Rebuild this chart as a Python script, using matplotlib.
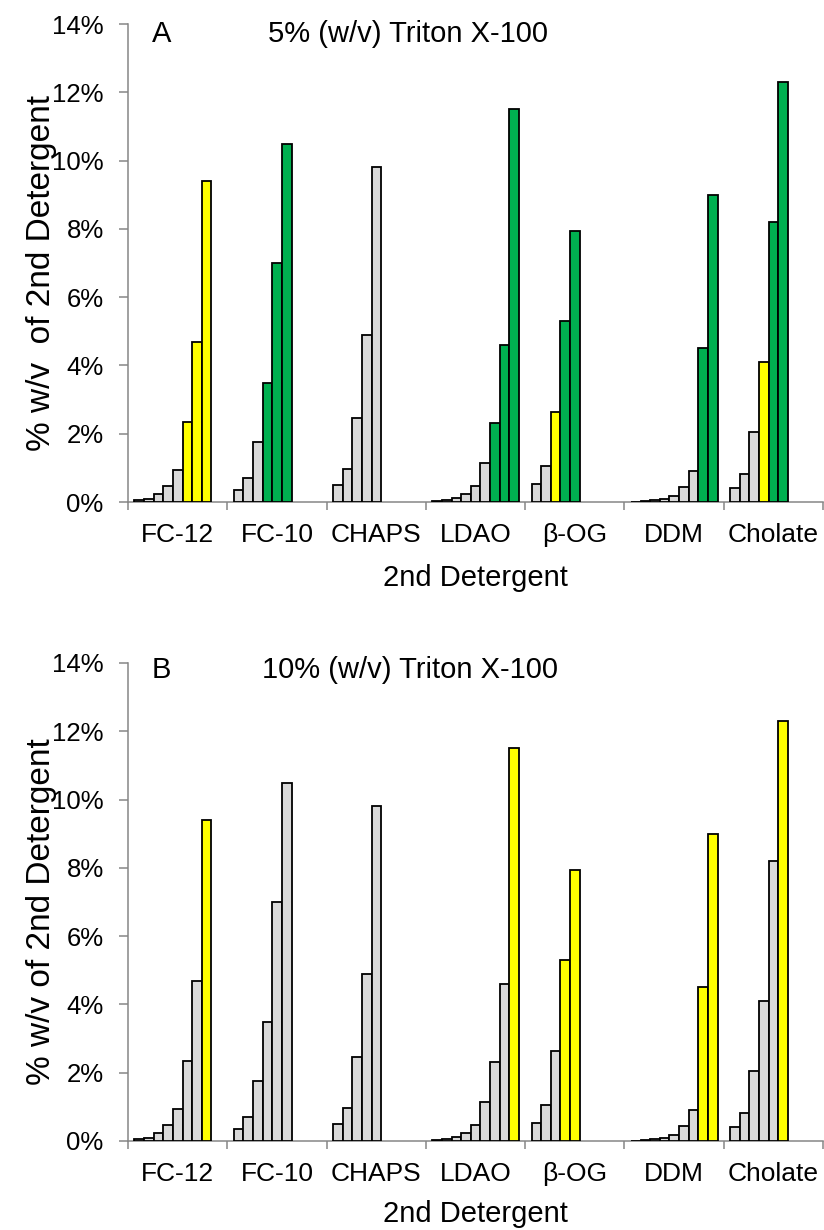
import matplotlib
matplotlib.use("Agg")
import matplotlib.pyplot as plt
from matplotlib.ticker import FuncFormatter, FixedLocator

# detergent groups, in order along the x axis
detergents = ["FC-12", "FC-10", "CHAPS", "LDAO", "β-OG", "DDM", "Cholate"]

# % w/v of 2nd detergent, one bar per dilution
fc12 = [0.047, 0.094, 0.235, 0.47, 0.94, 2.35, 4.7, 9.4]
fc10 = [0.35, 0.7, 1.75, 3.5, 7.0, 10.5]
chaps = [0.49, 0.98, 2.45, 4.9, 9.8]
ldao = [0.023, 0.046, 0.115, 0.23, 0.46, 1.15, 2.3, 4.6, 11.5]
bog = [0.53, 1.06, 2.65, 5.3, 7.95]
ddm = [0.009, 0.018, 0.045, 0.09, 0.18, 0.45, 0.9, 4.5, 9.0]
cholate = [0.41, 0.82, 2.05, 4.1, 8.2, 12.3]

# bar colour codes per group: n = grey, y = yellow, g = green
codes_a = ["nnnnnyyy", "nnnggg", "nnnnn", "nnnnnnggg", "nnygg", "nnnnnnngg", "nnnygg"]
codes_b = ["nnnnnnny", "nnnnnn", "nnnnn", "nnnnnnnny", "nnnyy", "nnnnnnnyy", "nnnnny"]

panel_titles = ["5% (w/v) Triton X-100", "10% (w/v) Triton X-100"]
panel_letters = ["A", "B"]
ylabels = ["% w/v  of 2nd Detergent", "% w/v of 2nd Detergent"]

colors = {"n": "#D9D9D9", "y": "#FFFF00", "g": "#00B050"}
axis_grey = "#868686"

plt.rcParams["font.family"] = ["Liberation Sans", "DejaVu Sans"]

W, H = 824, 1230
fig = plt.figure(figsize=(W / 100, H / 100), dpi=100)

groups = [fc12, fc10, chaps, ldao, bog, ddm, cholate]
offset = 0.065
width = 0.097

# axes boxes in pixels: left, top, right, bottom
boxes = [(128, 24, 823, 502), (128, 663, 823, 1141)]
letter_y = [0.962, 0.969]
title_x = [0.2014, 0.193]
xlabel_y = [-0.160, -0.152]

for p in range(2):
    l, t, r, b = boxes[p]
    ax = fig.add_axes([l / W, 1 - b / H, (r - l) / W, (b - t) / H])
    codes = codes_a if p == 0 else codes_b
    for i, vals in enumerate(groups):
        xs = [i + offset + k * width for k in range(len(vals))]
        cols = [colors[c] for c in codes[i]]
        ax.bar(xs, vals, width=width, align="edge", color=cols,
               edgecolor="black", linewidth=1.3, zorder=3)

    ax.set_xlim(0, 7)
    ax.set_ylim(0, 14)
    ax.set_yticks(range(0, 15, 2))
    ax.yaxis.set_major_formatter(FuncFormatter(lambda v, _: f"{v:.0f}%"))
    ax.xaxis.set_major_locator(FixedLocator(range(8)))
    ax.xaxis.set_minor_locator(FixedLocator([i + 0.5 for i in range(7)]))
    ax.set_xticklabels([])
    ax.set_xticklabels(detergents, minor=True)

    for s in ["top", "right"]:
        ax.spines[s].set_visible(False)
    for s in ["left", "bottom"]:
        ax.spines[s].set_color(axis_grey)
        ax.spines[s].set_linewidth(1.1)

    ax.tick_params(axis="y", direction="out", length=6.5, width=1.1,
                   color=axis_grey, labelsize=18.5, pad=11)
    ax.tick_params(axis="x", which="major", direction="out", length=5.8,
                   width=1.1, color=axis_grey)
    ax.tick_params(axis="x", which="minor", length=0, labelsize=19, pad=15)

    ax.text(0.0345, letter_y[p], panel_letters[p], transform=ax.transAxes,
            fontsize=21, ha="left", va="baseline")
    ax.text(title_x[p], letter_y[p], panel_titles[p], transform=ax.transAxes,
            fontsize=21, ha="left", va="baseline")

    ax.text(-0.125, 0.479, ylabels[p], transform=ax.transAxes, rotation=90,
            fontsize=24, ha="center", va="center")
    ax.text(0.5, xlabel_y[p], "2nd Detergent", transform=ax.transAxes,
            fontsize=21, ha="center", va="center")

fig.savefig("out.png", dpi=100)
plt.close(fig)
